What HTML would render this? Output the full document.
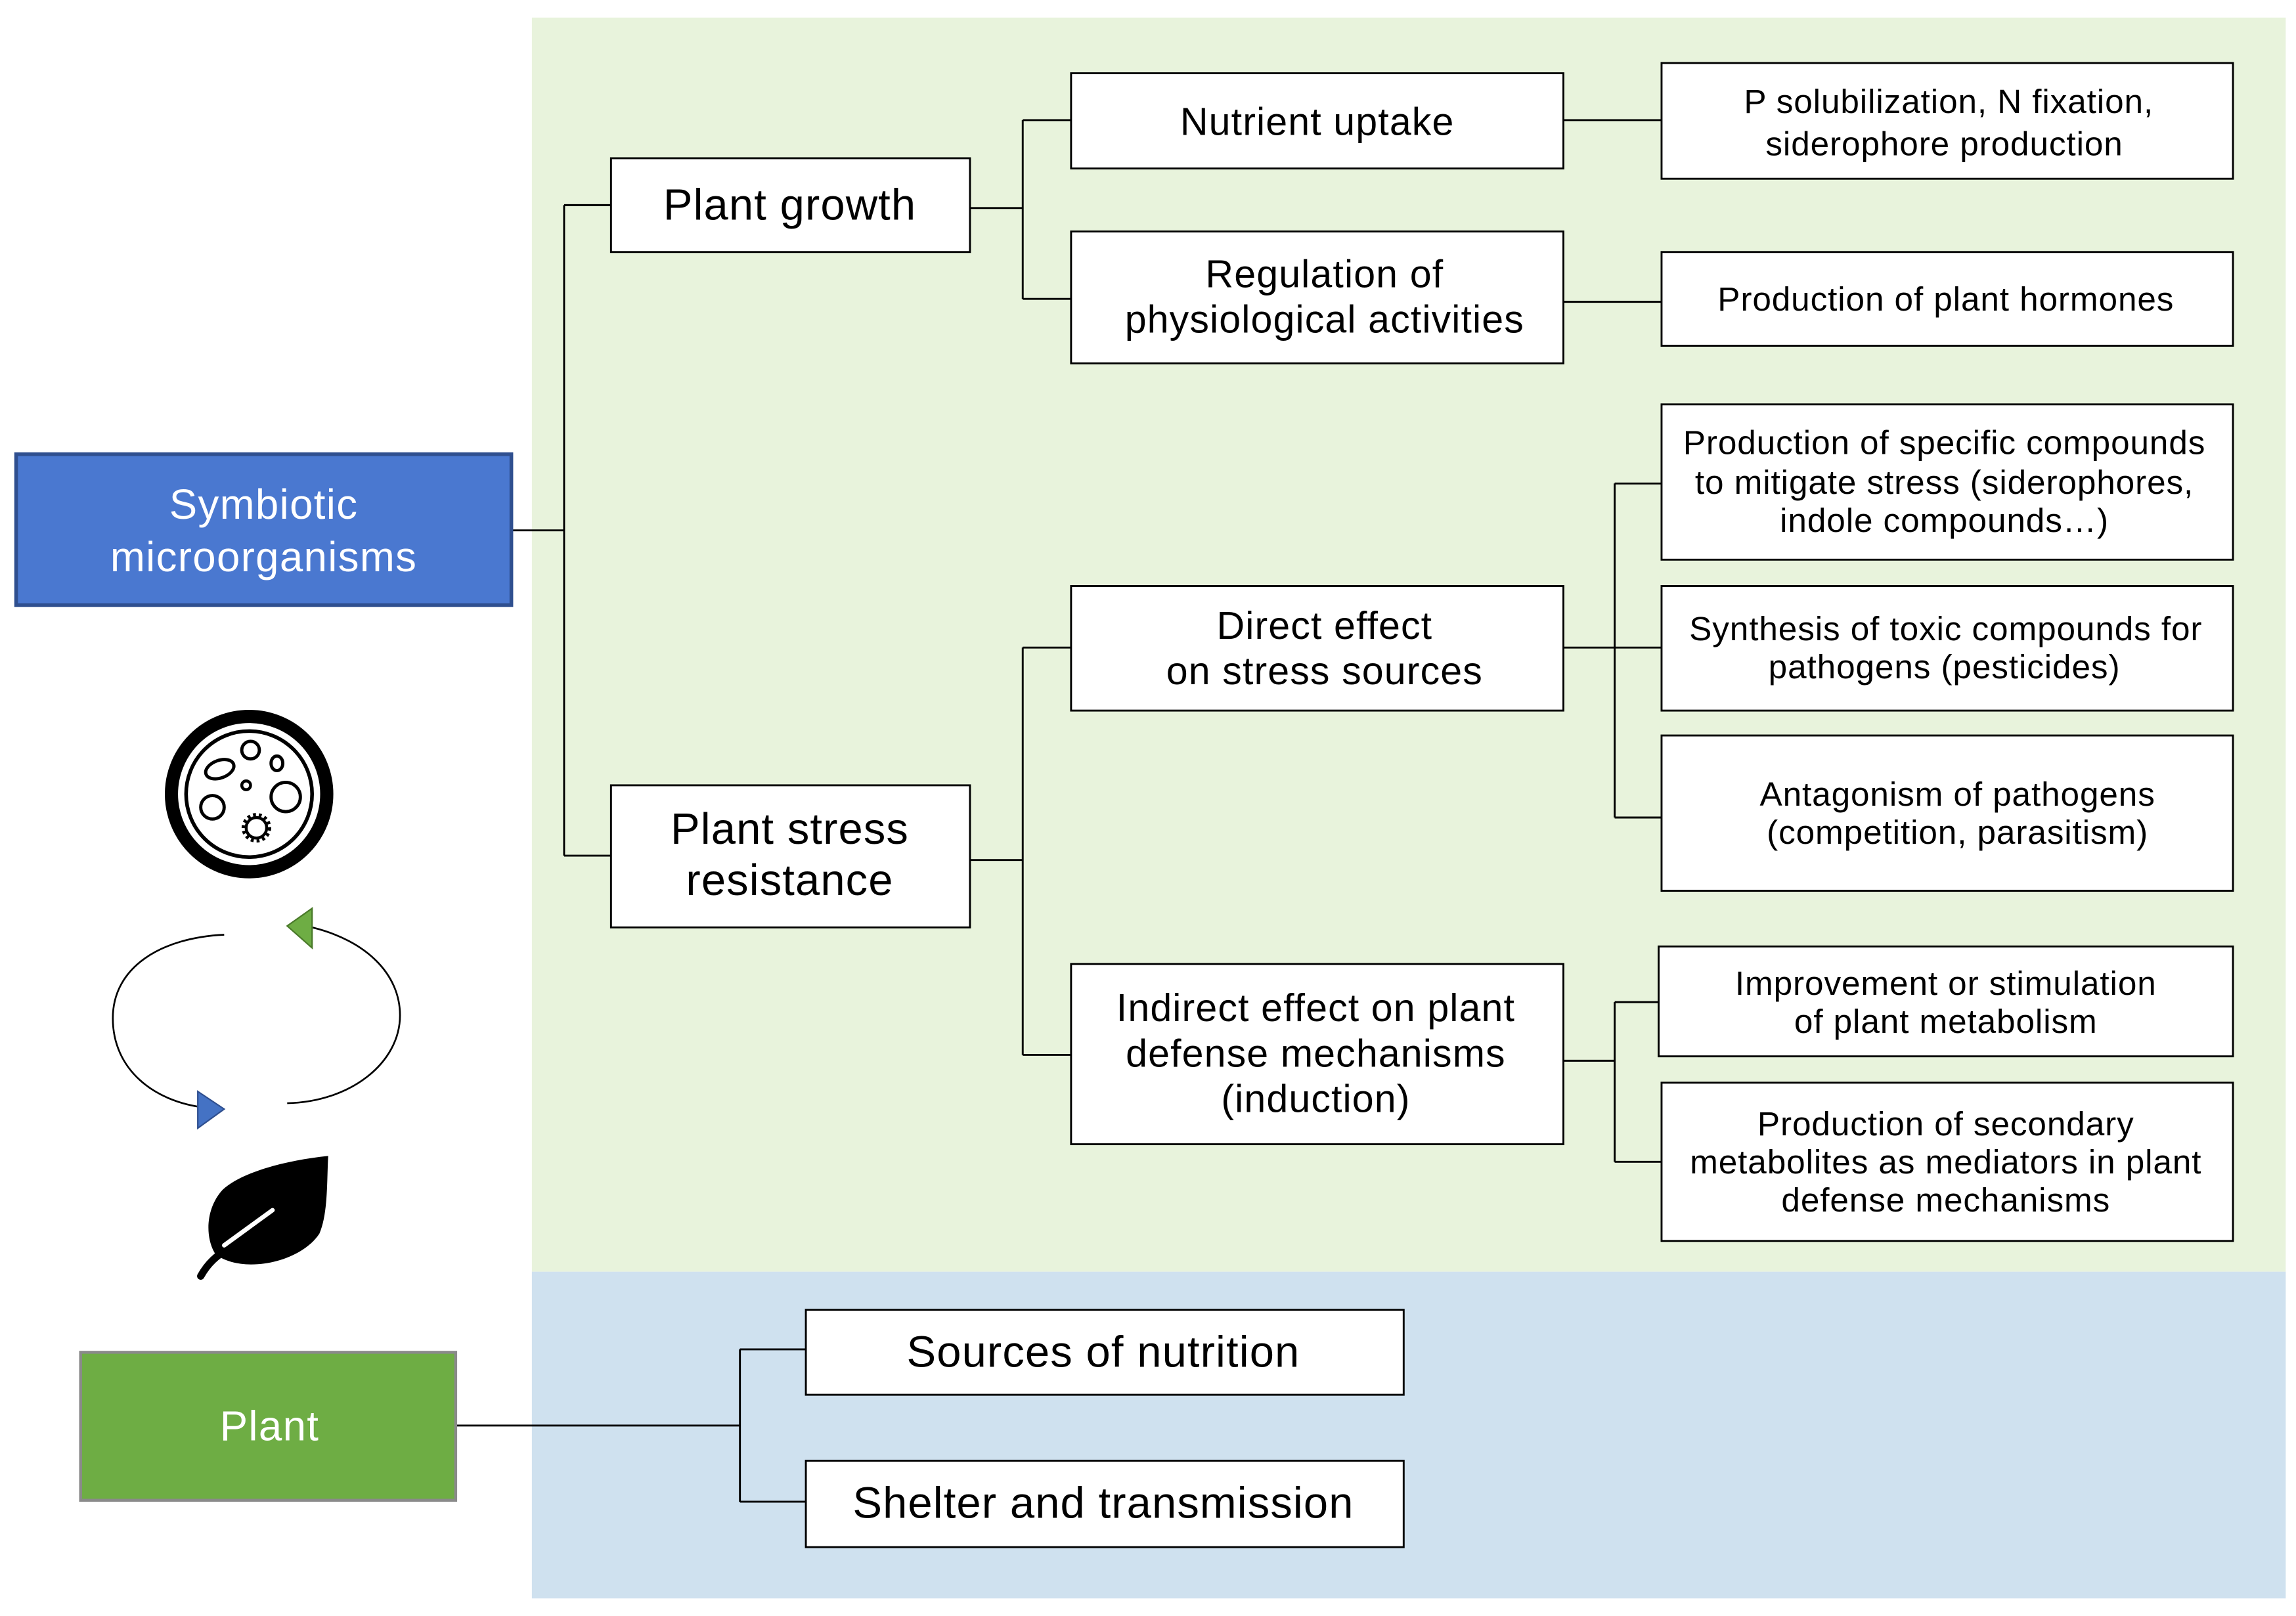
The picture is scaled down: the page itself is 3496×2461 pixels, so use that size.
<!DOCTYPE html>
<html><head><meta charset="utf-8"><style>
html,body{margin:0;padding:0;background:#fff;}
svg{display:block;}
text{font-family:"Liberation Sans",Arial,sans-serif;fill:#000;text-anchor:middle;}
</style></head><body>
<svg width="3496" height="2461" viewBox="0 0 1567 1103" preserveAspectRatio="none" xmlns="http://www.w3.org/2000/svg">
<rect x="0" y="0" width="1567" height="1103" fill="#fff"/>
<rect x="363" y="12" width="1197" height="856" fill="#E8F3DC"/>
<rect x="363" y="868" width="1197" height="223" fill="#CFE1EF"/>

<g stroke="#000" stroke-width="1.3" fill="none">
<path d="M349 362H385M385 140V584M385 140H417M385 584H417"/>
<path d="M662 142H698M698 82V204M698 82H731M698 204H731"/>
<path d="M662 587H698M698 442V720M698 442H731M698 720H731"/>
<path d="M1067 82H1134M1067 206H1134"/>
<path d="M1067 442H1134M1102 330V558M1102 330H1134M1102 558H1134"/>
<path d="M1067 724H1102M1102 684V793M1102 684H1132M1102 793H1134"/>
<path d="M311 973H505M505 921V1025M505 921H550M505 1025H550"/>
</g>

<g fill="#fff" stroke="#000" stroke-width="1.3">
<rect x="417" y="108" width="245" height="64"/>
<rect x="417" y="536" width="245" height="97"/>
<rect x="731" y="50" width="336" height="65"/>
<rect x="731" y="158" width="336" height="90"/>
<rect x="731" y="400" width="336" height="85"/>
<rect x="731" y="658" width="336" height="123"/>
<rect x="1134" y="43" width="390" height="79"/>
<rect x="1134" y="172" width="390" height="64"/>
<rect x="1134" y="276" width="390" height="106"/>
<rect x="1134" y="400" width="390" height="85"/>
<rect x="1134" y="502" width="390" height="106"/>
<rect x="1132" y="646" width="392" height="75"/>
<rect x="1134" y="739" width="390" height="108"/>
<rect x="550" y="894" width="408" height="58"/>
<rect x="550" y="997" width="408" height="59"/>
</g>

<rect x="11" y="310" width="338" height="103" fill="#4A78D0" stroke="#2F4F8F" stroke-width="2.5"/>
<rect x="55" y="923" width="256" height="101" fill="#6EAD44" stroke="#8a8a8a" stroke-width="2"/>

<g font-size="28.5" letter-spacing="0.6">
<text x="180" y="354" style="fill:#fff">Symbiotic</text>
<text x="180" y="390" style="fill:#fff">microorganisms</text>
<text x="184" y="983" style="fill:#fff">Plant</text>
</g>

<g font-size="30" letter-spacing="0.5">
<text x="539" y="150">Plant growth</text>
<text x="539" y="576">Plant stress</text>
<text x="539" y="611">resistance</text>
<text x="753" y="933">Sources of nutrition</text>
<text x="753" y="1036">Shelter and transmission</text>
</g>
<g font-size="26.5" letter-spacing="0.5">
<text x="899" y="92">Nutrient uptake</text>
<text x="904" y="196">Regulation of</text>
<text x="904" y="227">physiological activities</text>
<text x="904" y="436">Direct effect</text>
<text x="904" y="467">on stress sources</text>
<text x="898" y="697">Indirect effect on plant</text>
<text x="898" y="728">defense mechanisms</text>
<text x="898" y="759">(induction)</text>
</g>
<g font-size="23" letter-spacing="0.4">
<text x="1330" y="77">P solubilization,  N fixation,</text>
<text x="1327" y="106">siderophore production</text>
<text x="1328" y="212">Production of plant hormones</text>
<text x="1327" y="310">Production of specific compounds</text>
<text x="1327" y="337">to mitigate stress (siderophores,</text>
<text x="1327" y="363">indole compounds…)</text>
<text x="1328" y="437">Synthesis of toxic compounds for</text>
<text x="1327" y="463">pathogens (pesticides)</text>
<text x="1336" y="550">Antagonism of pathogens</text>
<text x="1336" y="576">(competition, parasitism)</text>
<text x="1328" y="679">Improvement  or stimulation</text>
<text x="1328" y="705">of plant metabolism</text>
<text x="1328" y="775">Production of secondary</text>
<text x="1328" y="801">metabolites as mediators in plant</text>
<text x="1328" y="827">defense mechanisms</text>
</g>

<!-- petri dish icon -->
<g fill="none" stroke="#000">
<circle cx="170" cy="542" r="53" stroke-width="9"/>
<circle cx="170" cy="542" r="43" stroke-width="2.5"/>
<circle cx="171" cy="512" r="6" stroke-width="2.2"/>
<ellipse cx="150" cy="525" rx="10" ry="6" transform="rotate(-20 150 525)" stroke-width="2.2"/>
<ellipse cx="189" cy="521" rx="4" ry="5" stroke-width="2.2"/>
<circle cx="168" cy="536" r="3" stroke-width="2"/>
<circle cx="145" cy="551" r="8" stroke-width="2.2"/>
<circle cx="195" cy="544" r="10" stroke-width="2.2"/>
<circle cx="175" cy="565" r="9" stroke-width="2.2" stroke-dasharray="2 2"/>
<circle cx="175" cy="565" r="7" stroke-width="2"/>
</g>

<!-- cycle arrows -->
<g fill="none" stroke="#000" stroke-width="1.2">
<path d="M153 638 C110 640 77 660 77 695 C77 730 105 752 140 756"/>
<path d="M196 753 C240 752 273 725 273 693 C273 665 250 642 213 633"/>
</g>
<polygon points="135,745 135,770 153,757" fill="#4472C4" stroke="#2F4F8F" stroke-width="1"/>
<polygon points="213,620 213,647 196,632" fill="#6EAD44" stroke="#4a7a2a" stroke-width="1"/>

<!-- leaf -->
<path d="M224 789 C195 792 165 800 152 812 C140 825 140 845 147 856 C165 870 205 862 218 842 C224 828 223 806 224 789 Z" fill="#000"/>
<path d="M137 871 C142 862 148 857 156 852" stroke="#000" stroke-width="5" fill="none" stroke-linecap="round"/>
<path d="M153 850 L186 826" stroke="#fff" stroke-width="3" fill="none" stroke-linecap="round"/>
</svg>
</body></html>
